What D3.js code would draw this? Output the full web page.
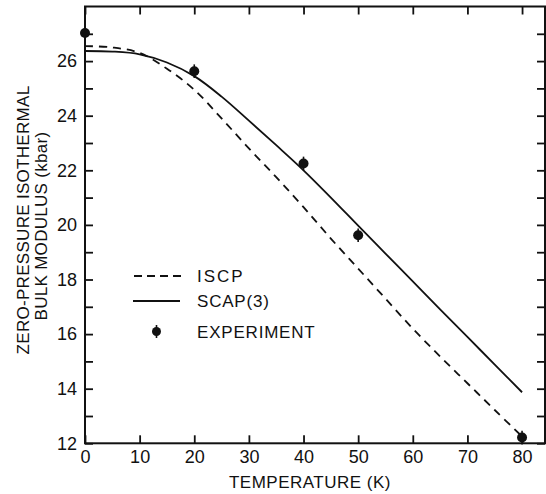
<!DOCTYPE html>
<html>
<head>
<meta charset="utf-8">
<script src="https://cdn.jsdelivr.net/npm/d3@7"></script>
<style>
  html, body { margin: 0; padding: 0; background: #fff; }
  svg { display: block; }
  text { font-family: "Liberation Sans", Arial, sans-serif; fill: #111; }
</style>
</head>
<body>
<svg id="chart" width="546" height="494"></svg>
<script>
// Temperature grid (K) for the two theoretical curves
const temps = [0, 5, 10, 15, 20, 25, 30, 35, 40, 45, 50, 55, 60, 65, 70, 75, 80];
// ISCP bulk modulus (kbar)
const iscp = [26.55, 26.5, 26.3, 25.72, 24.95, 23.9, 22.8, 21.75, 20.65, 19.5, 18.4, 17.3, 16.2, 15.18, 14.2, 13.22, 12.25];
// SCAP(3) bulk modulus (kbar)
const scap = [26.37, 26.35, 26.25, 25.95, 25.45, 24.7, 23.82, 22.92, 22.0, 21.0, 19.97, 18.95, 17.93, 16.91, 15.9, 14.88, 13.87];
// Experimental points
const expT = [0, 20, 40, 50, 80];
const expB = [27.03, 25.63, 22.25, 19.62, 12.21];
const expErr = [0.25, 0.25, 0.25, 0.25, 0.25];
// Axis ticks
const xTicks = [0, 10, 20, 30, 40, 50, 60, 70, 80];
const yMinorTicks = d3.range(12, 28, 1);
const yLabelTicks = [12, 14, 16, 18, 20, 22, 24, 26];

const legendItems = ["ISCP", "SCAP(3)", "EXPERIMENT"];

const svg = d3.select("#chart");
const plotL = 85, plotR = 545, plotT = 6.5, plotB = 443.3;

const x = d3.scaleLinear().domain([0, 84.2]).range([plotL, plotR]);
const y = d3.scaleLinear().domain([12, 28]).range([plotB, plotT]);

const ink = "#111";
const fontFam = "Liberation Sans, Arial, sans-serif";

// Frame
svg.append("rect")
  .attr("x", plotL).attr("y", plotT)
  .attr("width", plotR - plotL).attr("height", plotB - plotT)
  .attr("fill", "none").attr("stroke", ink).attr("stroke-width", 2);

// Bottom axis: inward ticks with labels
const xAxisB = d3.axisBottom(x).tickValues(xTicks).tickSize(-8).tickPadding(7).tickFormat(d3.format("d"));
const gB = svg.append("g").attr("transform", `translate(0,${plotB})`).call(xAxisB);
gB.select(".domain").remove();
gB.selectAll("line").attr("stroke", ink).attr("stroke-width", 1.8);
gB.selectAll("text").attr("font-size", 18).attr("fill", ink).attr("font-family", fontFam);

// Top axis: inward ticks only
const xAxisT = d3.axisTop(x).tickValues(xTicks).tickSize(-8).tickFormat("");
const gT = svg.append("g").attr("transform", `translate(0,${plotT})`).call(xAxisT);
gT.select(".domain").remove();
gT.selectAll("line").attr("stroke", ink).attr("stroke-width", 1.8);

// Left axis: inward ticks every 1 kbar, labels every 2
const yAxisL = d3.axisLeft(y).tickValues(yMinorTicks).tickSize(-8).tickPadding(8)
  .tickFormat(d => yLabelTicks.includes(d) ? d : "");
const gL = svg.append("g").attr("transform", `translate(${plotL},0)`).call(yAxisL);
gL.select(".domain").remove();
gL.selectAll("line").attr("stroke", ink).attr("stroke-width", 1.8);
gL.selectAll("text").attr("font-size", 18).attr("fill", ink).attr("font-family", fontFam);

// Right axis: inward ticks only
const yAxisR = d3.axisRight(y).tickValues(yMinorTicks).tickSize(-8).tickFormat("");
const gR = svg.append("g").attr("transform", `translate(${plotR},0)`).call(yAxisR);
gR.select(".domain").remove();
gR.selectAll("line").attr("stroke", ink).attr("stroke-width", 1.8);

// Curves
const line = (vals) => d3.line()
  .x((d, i) => x(temps[i]))
  .y(d => y(d))
  .curve(d3.curveCatmullRom.alpha(0.5))(vals);

svg.append("path").attr("d", line(iscp))
  .attr("fill", "none").attr("stroke", ink).attr("stroke-width", 1.8)
  .attr("stroke-dasharray", "8,6");
svg.append("path").attr("d", line(scap))
  .attr("fill", "none").attr("stroke", ink).attr("stroke-width", 1.8);

// Experimental points with error bars
const pts = svg.append("g");
expT.forEach((t, i) => {
  pts.append("line")
    .attr("x1", x(t)).attr("x2", x(t))
    .attr("y1", y(expB[i] - expErr[i])).attr("y2", y(expB[i] + expErr[i]))
    .attr("stroke", ink).attr("stroke-width", 1.6);
  pts.append("circle").attr("cx", x(t)).attr("cy", y(expB[i])).attr("r", 5).attr("fill", ink);
});

// Legend
const lg = svg.append("g");
lg.append("line").attr("x1", 134).attr("x2", 181).attr("y1", 276).attr("y2", 276)
  .attr("stroke", ink).attr("stroke-width", 1.8).attr("stroke-dasharray", "8,5");
lg.append("line").attr("x1", 133).attr("x2", 180).attr("y1", 301).attr("y2", 301)
  .attr("stroke", ink).attr("stroke-width", 1.8);
lg.append("line").attr("x1", 156.5).attr("x2", 156.5).attr("y1", 325).attr("y2", 338)
  .attr("stroke", ink).attr("stroke-width", 1.6);
lg.append("circle").attr("cx", 156.5).attr("cy", 331.5).attr("r", 4.5).attr("fill", ink);
const lgY = [282, 307, 337.5];
legendItems.forEach((s, i) => {
  lg.append("text").attr("x", 197).attr("y", lgY[i])
    .attr("font-size", 17).attr("letter-spacing", i === 0 ? 2 : 0.8).text(s);
});

// Axis titles
svg.append("text").attr("x", 310).attr("y", 488).attr("text-anchor", "middle")
  .attr("font-size", 17).attr("letter-spacing", 0.5).text("TEMPERATURE (K)");
svg.append("text").attr("transform", "translate(29,220) rotate(-90)").attr("text-anchor", "middle")
  .attr("font-size", 17).attr("letter-spacing", 0.3).text("ZERO-PRESSURE ISOTHERMAL");
svg.append("text").attr("transform", "translate(47,226) rotate(-90)").attr("text-anchor", "middle")
  .attr("font-size", 17).attr("letter-spacing", 0.3).text("BULK MODULUS (kbar)");
</script>
</body>
</html>
